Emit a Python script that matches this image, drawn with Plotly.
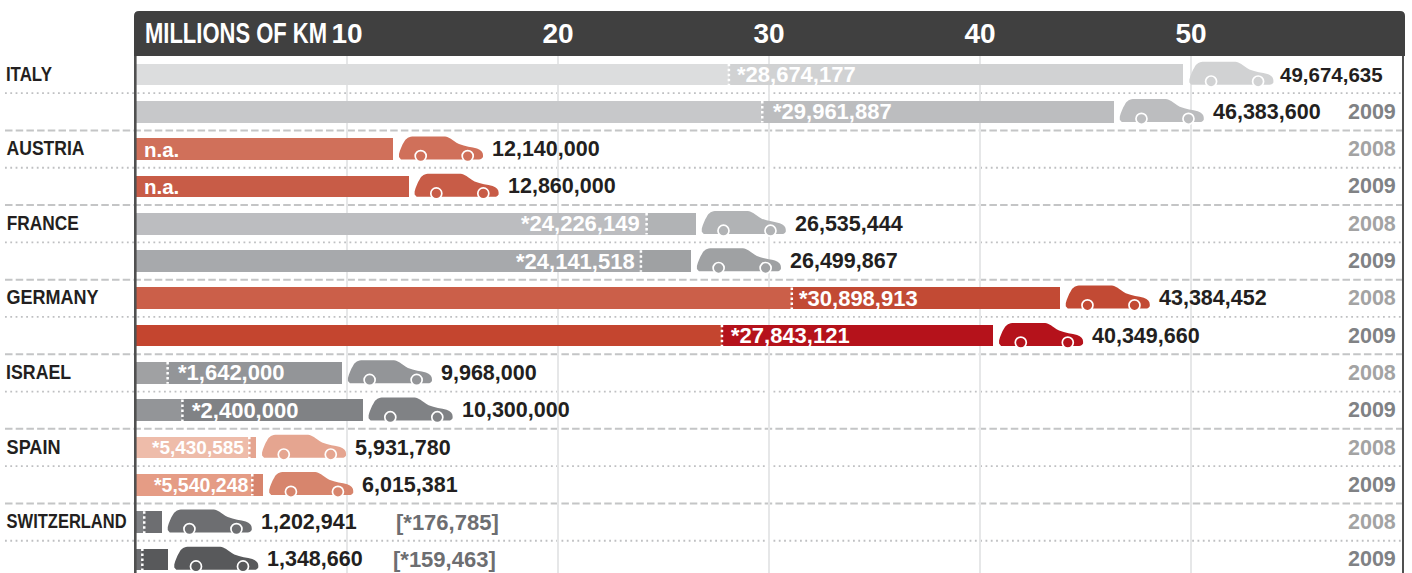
import json
import plotly.graph_objects as go

# ---------- data (millions of km, bar ends as drawn in the picture) ----------
countries = ["ITALY", "AUSTRIA", "FRANCE", "GERMANY", "ISRAEL", "SPAIN", "SWITZERLAND"]
years = ["", "2009", "2008", "2009", "2008", "2009", "2008", "2009",
         "2008", "2009", "2008", "2009", "2008", "2009"]
totals = [49.64, 46.34, 12.18, 12.92, 26.53, 26.3, 43.78, 40.62, 9.76, 10.74, 5.69, 6.03, 1.22, 1.53]
total_labels = ["49,674,635", "46,383,600", "12,140,000", "12,860,000", "26,535,444",
                "26,499,867", "43,384,452", "40,349,660", "9,968,000", "10,300,000",
                "5,931,780", "6,015,381", "1,202,941", "1,348,660"]
# position of the dotted divider as drawn in the picture
divider = [28.1, 29.68, None, None, 24.2, 23.93, 31.08, 27.77, 1.5, 2.2, 5.37, 5.51, 0.39, 0.3]
star_labels = ["*28,674,177", "*29,961,887", "n.a.", "n.a.", "*24,226,149", "*24,141,518",
               "*30,898,913", "*27,843,121", "*1,642,000", "*2,400,000", "*5,430,585",
               "*5,540,248", "[*176,785]", "[*159,463]"]
x_ticks = [10, 20, 30, 40, 50]

# ---------- style ----------
rows = list(range(len(totals)))
color_main = ["#d1d2d3", "#bcbdbf", "#d0705a", "#c85c47", "#b1b3b5", "#9fa1a3", "#c24a34",
              "#b5121b", "#939598", "#808285", "#e5a590", "#d7856d", "#6d6e71", "#58595b"]
color_left = ["#dcddde", "#c7c8ca", "#d0705a", "#c85c47", "#bcbdc0", "#a7a9ac", "#cb5f49",
              "#c4452f", "#a0a1a3", "#939598", "#eebcaa", "#e59c85", "#808285", "#6d6e71"]
star_side = ["r", "r", "n", "n", "l", "l", "r", "r", "r", "r", "l", "l", "o", "o"]
star_shift = [6, 8.5, 0, 0, -4.5, -4, 5, 7.5, 8, 8, -3, -2, 0, 0]
star_size = [22, 22, 20.5, 20.5, 22, 22, 22, 22, 22, 22, 19, 19.5, 22, 22]
total_size = [20.5] + [21.5] * 13
total_shift = [95] + [97] * 13
# width of each condensed label in the picture, px
label_widths = {"ITALY": 46, "AUSTRIA": 78, "FRANCE": 72, "GERMANY": 92, "ISRAEL": 65, "SPAIN": 54,
                "SWITZERLAND": 120, "MILLIONS OF KM": 182}

W, H = 1412, 573
PX = 21.1            # px per million km
ORIGIN = 136         # px of zero
TOP = 56             # px of plot top
ROW = 37.3
ROW0 = 74.5
FONT = "Liberation Sans"


def px_x(p):
    return (p - ORIGIN) / PX


def paper_y(p):
    return (H - p) / (H - TOP)


car_body = ("M 8 -10.3 L 6 -8 L 6 -5 C 7 -1 9 4 11 7 C 13 11 16 12.7 21 12.7 "
            "L 52 12.7 C 56 12.7 59 9 66 5 C 72 2.5 79 2 84 0.5 C 88 -1 90 -3 90 -6 "
            "L 90 -8 C 89 -9.5 88 -10.3 86 -10.3 Z")

fig = go.Figure()
fig.add_bar(x=totals, y=rows, orientation="h", width=0.58, marker=dict(color=color_main, line_width=0),
            hoverinfo="skip", showlegend=False)
fig.add_bar(x=divider, y=rows, orientation="h", width=0.58, marker=dict(color=color_left, line_width=0),
            hoverinfo="skip", showlegend=False)

shapes, ann = [], []

# separators
for i in rows[:-1]:
    dashed = i % 2 == 1
    shapes.append(dict(type="line", layer="below", xref="x", yref="y", x0=px_x(5), x1=px_x(1403),
                       y0=i + 0.5, y1=i + 0.5,
                       line=dict(color="#c4c5c6" if dashed else "#bfc0c2", width=2 if dashed else 1.8,
                                 dash="7.5px,3.2px" if dashed else "1.8px,3.5px")))

# header and frame
r = 5
shapes.append(dict(type="path", xref="x", yref="paper", line_width=0, fillcolor="#404040", layer="below",
                   path=f"M {px_x(134)} {paper_y(TOP)} L {px_x(134)} {paper_y(11 + r)} "
                        f"Q {px_x(134)} {paper_y(11)} {px_x(134 + r)} {paper_y(11)} "
                        f"L {px_x(1405 - r)} {paper_y(11)} Q {px_x(1405)} {paper_y(11)} {px_x(1405)} {paper_y(11 + r)} "
                        f"L {px_x(1405)} {paper_y(TOP)} Z"))
for p, w in ((135.3, 2.6), (1403, 2)):
    shapes.append(dict(type="line", xref="x", yref="paper", x0=px_x(p), x1=px_x(p), y0=0, y1=1,
                       line=dict(color="#505050", width=w)))

for i in rows:
    v, c = totals[i], color_main[i]
    # car glyph anchored at the bar end
    shapes.append(dict(type="path", xref="x", yref="y", xsizemode="pixel", ysizemode="pixel",
                       xanchor=v, yanchor=i, path=car_body, fillcolor=c, line_width=0))
    for cx in (27.7, 74.7):
        shapes.append(dict(type="circle", xref="x", yref="y", xsizemode="pixel", ysizemode="pixel",
                           xanchor=v, yanchor=i, x0=cx - 5.5, x1=cx + 5.5, y0=-12.5, y1=-1.5,
                           fillcolor=c, line=dict(color="white", width=1.7)))
    # total label
    ann.append(dict(x=v, y=i, text=total_labels[i], xanchor="left", yanchor="middle", showarrow=False,
                    xshift=total_shift[i], font=dict(family=FONT, size=total_size[i], color="#231f20", weight="bold")))
    # year label
    if years[i]:
        ann.append(dict(x=px_x(1398), y=i, text=years[i], xanchor="right", yanchor="middle", showarrow=False,
                        font=dict(family=FONT, size=21.5, weight="bold",
                                  color="#a3a3a3" if years[i] == "2008" else "#808285")))
    # divider
    if divider[i] is not None:
        shapes.append(dict(type="line", xref="x", yref="y", x0=divider[i], x1=divider[i],
                           y0=i - 0.29, y1=i + 0.29, line=dict(color="white", width=2.5, dash="2.5px,2.5px")))
    # star label
    s = star_side[i]
    if s in ("r", "l"):
        ann.append(dict(x=divider[i], y=i, text=star_labels[i], xanchor="left" if s == "r" else "right",
                        yanchor="middle", showarrow=False, xshift=star_shift[i],
                        font=dict(family=FONT, size=star_size[i], color="white", weight="bold")))
    elif s == "n":
        ann.append(dict(x=px_x(142), y=i, text=star_labels[i], xanchor="left", yanchor="middle", showarrow=False,
                        font=dict(family=FONT, size=star_size[i], color="white", weight="bold")))
    else:
        ann.append(dict(x=px_x(391 if i == 13 else 394), y=i, text=star_labels[i], xanchor="left", yanchor="middle",
                        showarrow=False, font=dict(family=FONT, size=star_size[i], color="#6d6e71", weight="bold")))

# country labels (centred on their drawn extent, condensed after drawing)
for k, name in enumerate(countries):
    ann.append(dict(x=px_x(6 + label_widths[name] / 2), y=2 * k, text=name, xanchor="center", yanchor="middle",
                    yshift=1.5, showarrow=False, font=dict(family=FONT, size=20.5, color="#231f20", weight="bold")))

# header title
ann.append(dict(x=px_x(145 + label_widths["MILLIONS OF KM"] / 2), xref="x", y=paper_y(33), yref="paper",
                text="MILLIONS OF KM", xanchor="center", yanchor="middle", showarrow=False,
                font=dict(family=FONT, size=29, color="white", weight="bold")))

fig.update_layout(
    width=W, height=H, margin=dict(l=0, r=0, t=TOP, b=0, pad=0), autosize=False,
    paper_bgcolor="white", plot_bgcolor="white", barmode="overlay", bargap=0, showlegend=False,
    shapes=shapes, annotations=ann,
    xaxis=dict(range=[px_x(0), px_x(W)], side="top", tickmode="array", tickvals=x_ticks,
               ticktext=[str(t) for t in x_ticks], showgrid=True, gridcolor="#e6e7e8", gridwidth=2,
               zeroline=False, showline=False, ticks="outside", ticklen=1, tickcolor="rgba(0,0,0,0)",
               tickfont=dict(family=FONT, size=28, color="white", weight="bold")),
    yaxis=dict(range=[(H - ROW0) / ROW, (TOP - ROW0) / ROW], showgrid=False, zeroline=False, showline=False,
               showticklabels=False, ticks=""),
)
post = ("document.body.style.margin='0';"
        "var w=" + json.dumps(label_widths) + ";"
        "document.querySelectorAll('.annotation-text').forEach(function(t){"
        "var n=w[t.textContent];if(n){t.setAttribute('textLength',n);"
        "t.setAttribute('lengthAdjust','spacingAndGlyphs');}});")
fig.write_html("out.html", post_script=post, config={"displayModeBar": False})
